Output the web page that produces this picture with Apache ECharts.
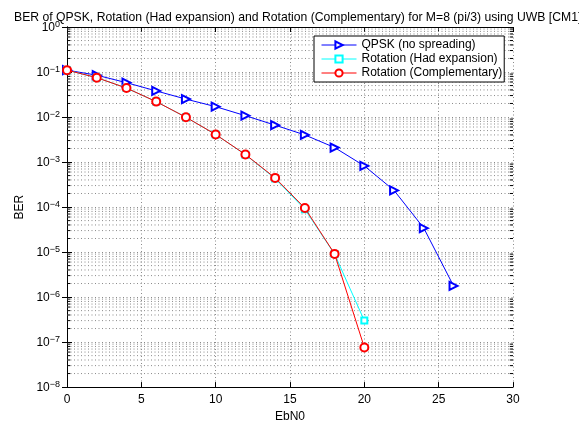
<!DOCTYPE html>
<html><head><meta charset="utf-8">
<script src="https://cdn.jsdelivr.net/npm/echarts@6/dist/echarts.min.js"></script>
<style>html,body{margin:0;padding:0;background:#fff}#c{width:579px;height:428px}</style>
</head><body><div id="c"></div>
<script>
const ebn0Qpsk = [0,2,4,6,8,10,12,14,16,18,20,22,24,26];
const berQpsk  = [0.11,0.085,0.058,0.038,0.025,0.017,0.0107,0.0066,0.0040,0.0021,8.2e-4,2.34e-4,3.4e-5,1.77e-6];
const ebn0Rot  = [0,2,4,6,8,10,12,14,16,18,20];
const berHad   = [0.11,0.075,0.044,0.022,0.0099,0.0041,0.00146,4.3e-4,8.9e-5,9.0e-6,3.0e-7];
const berComp  = [0.11,0.075,0.044,0.022,0.0099,0.0041,0.00147,4.44e-4,9.5e-5,9.1e-6,7.6e-8];
const seriesNames = ['QPSK (no spreading)','Rotation (Had expansion)','Rotation (Complementary)'];
const titleText = 'BER of QPSK, Rotation (Had expansion) and Rotation (Complementary) for M=8 (pi/3) using UWB [CM1]';
const xTicks = [0,5,10,15,20,25,30];
const yDecades = [-8,-7,-6,-5,-4,-3,-2,-1,0];

const pairs = (xs, ys) => xs.map((x,i)=>[x, ys[i]]);
const minorVals = [];
for (let e = -8; e < 0; e++) for (let m = 2; m <= 9; m++) minorVals.push(m*Math.pow(10,e));
const dotted = {type:[1,2.5], color:'#8a8a8a', width:1};
const font = 'Liberation Sans, Arial, Helvetica, sans-serif';

// minor grid / tick segments, separated by empty points
const minorGridData = [];
const minorTickData = [];
minorVals.forEach(v => {
  minorGridData.push([0, v], [30, v], [30, '-']);
  minorTickData.push([0, v], [0.22, v], [0.22, '-']);
  minorTickData.push([29.78, v], [30, v], [30, '-']);
});

const yLabel = v => {
  const e = Math.round(Math.log10(v));
  return '{b|10}{s|' + (e < 0 ? '\u2212' + (-e) : e) + '}';
};

const chart = echarts.init(document.getElementById('c'), null, {renderer:'canvas'});
chart.setOption({
  animation: false,
  backgroundColor: '#fff',
  textStyle: {fontFamily: font},
  title: {text: titleText, left: 9, top: 7, textStyle: {fontSize: 12.2, fontWeight: 'normal', color: '#000', fontFamily: font}},
  grid: {left: 67, right: 66, top: 27, bottom: 33},
  legend: {
    data: seriesNames, orient: 'vertical', left: 314, top: 36,
    backgroundColor: '#fff', borderColor: '#000', borderWidth: 1,
    padding: [3, 2, 3, 7], itemWidth: 35, itemHeight: 9, itemGap: 2,
    lineStyle: {width: 1}, itemStyle: {borderWidth: 1},
    textStyle: {fontSize: 12, color: '#000', fontFamily: font}
  },
  xAxis: [{
    type: 'value', min: 0, max: 30, interval: 5, position: 'bottom',
    name: 'EbN0', nameLocation: 'middle', nameGap: 18,
    nameTextStyle: {fontSize: 12, color: '#000', fontFamily: font},
    axisLine: {show: true, lineStyle: {color: '#000', width: 1}},
    axisTick: {show: true, inside: true, length: 5, lineStyle: {color: '#000'}},
    axisLabel: {fontSize: 12, color: '#000', margin: 7, fontFamily: font},
    splitLine: {show: true, lineStyle: dotted}
  },{
    type: 'value', min: 0, max: 30, interval: 5, position: 'top',
    axisLine: {show: true, lineStyle: {color: '#000', width: 1}},
    axisTick: {show: true, inside: true, length: 5, lineStyle: {color: '#000'}},
    axisLabel: {show: false}, splitLine: {show: false}
  }],
  yAxis: [{
    type: 'log', logBase: 10, min: 1e-8, max: 1, position: 'left',
    name: 'BER', nameLocation: 'middle', nameGap: 33,
    nameTextStyle: {fontSize: 12, color: '#000', fontFamily: font},
    axisLine: {show: true, lineStyle: {color: '#000', width: 1}},
    axisTick: {show: true, inside: true, length: 5, lineStyle: {color: '#000'}},
    axisLabel: {formatter: yLabel, margin: 7, color: '#000',
      rich: {b: {fontSize: 12, fontFamily: font, color:'#000', lineHeight: 14, verticalAlign: 'bottom'},
             s: {fontSize: 9, fontFamily: font, color:'#000', lineHeight: 14, verticalAlign: 'top', padding:[0,0,6,0]}}},
    splitLine: {show: true, lineStyle: dotted}
  },{
    type: 'log', logBase: 10, min: 1e-8, max: 1, position: 'right',
    axisLine: {show: true, lineStyle: {color: '#000', width: 1}},
    axisTick: {show: true, inside: true, length: 5, lineStyle: {color: '#000'}},
    axisLabel: {show: false}, splitLine: {show: false}
  }],
  series: [
    {name: 'grid-minor', type: 'line', data: minorGridData, xAxisIndex: 0, yAxisIndex: 0, silent: true,
     symbol: 'none', connectNulls: false, lineStyle: dotted, z: 1},
    {name: 'tick-minor', type: 'line', data: minorTickData, xAxisIndex: 0, yAxisIndex: 0, silent: true,
     symbol: 'none', connectNulls: false, lineStyle: {type: 'solid', color: '#000', width: 1}, z: 1},
    {name: seriesNames[0], type: 'line', data: pairs(ebn0Qpsk, berQpsk),
     symbol: 'emptyTriangle', symbolRotate: -90, symbolSize: 8, showAllSymbol: true,
     lineStyle: {color: '#0000ff', width: 1}, itemStyle: {color: '#0000ff', borderWidth: 1}, z: 3},
    {name: seriesNames[1], type: 'line', data: pairs(ebn0Rot, berHad),
     symbol: 'emptyRect', symbolSize: 6, showAllSymbol: true,
     lineStyle: {color: '#00ffff', width: 1}, itemStyle: {color: '#00ffff', borderWidth: 1}, z: 4},
    {name: seriesNames[2], type: 'line', data: pairs(ebn0Rot, berComp),
     symbol: 'emptyCircle', symbolSize: 8, showAllSymbol: true,
     lineStyle: {color: '#ff0000', width: 1}, itemStyle: {color: '#ff0000', borderWidth: 1}, z: 5}
  ]
});
</script></body></html>
